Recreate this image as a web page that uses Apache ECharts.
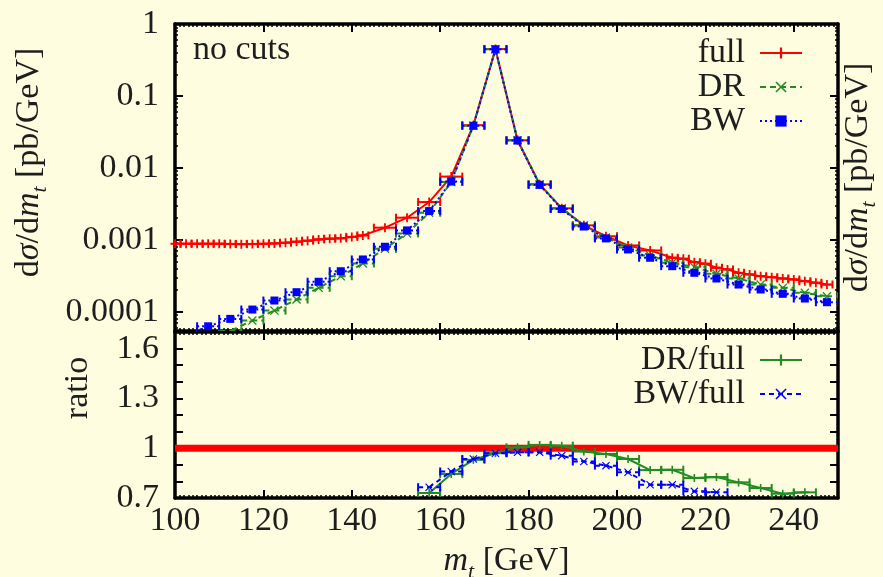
<!DOCTYPE html>
<html>
<head>
<meta charset="utf-8">
<script src="https://cdn.jsdelivr.net/npm/echarts@6/dist/echarts.min.js"></script>
<style>
html, body { margin: 0; padding: 0; background: #fefddf; }
#chart { width: 883px; height: 577px; }
</style>
</head>
<body>
<div id="chart"></div>
<script>
var F = 'Liberation Serif';
var FS = 34;
var RED = '#ff0000', GREEN = '#228b22', BLUE = '#0000ff', INK = '#1e1e1e';

// top panel: d sigma / d m_t  [pb/GeV]
var fullX = [100, 102.5, 105, 107.5, 110, 112.5, 115, 117.5, 120, 122.5, 125, 127.5, 130, 132.5, 135, 137.5, 140, 142.5,
    147.5, 152.5, 157.5, 162.5, 167.5, 172.5, 177.5, 182.5, 187.5, 192.5, 197.5, 202.5, 207.5,
    212.5, 215, 217.5, 220, 222.5, 225, 227.5, 230, 232.5, 235, 237.5, 240, 242.5, 245, 247.5];
var fullY = [8.82e-4, 8.82e-4, 8.82e-4, 8.82e-4, 8.82e-4, 8.77e-4, 8.71e-4, 8.77e-4, 8.82e-4, 8.91e-4, 9.11e-4, 9.41e-4, 9.72e-4, 1.013e-3, 1.036e-3, 1.05e-3, 1.098e-3, 1.151e-3,
    1.474e-3, 2.03e-3, 3.35e-3, 7.56e-3, 0.0392, 0.4486, 0.0242, 5.91e-3, 2.74e-3, 1.588e-3, 1.12e-3, 8.36e-4, 7.12e-4,
    5.63e-4, 5.45e-4, 4.89e-4, 4.65e-4, 4.09e-4, 3.87e-4, 3.48e-4, 3.30e-4, 3.12e-4, 3.02e-4, 2.90e-4, 2.81e-4, 2.66e-4, 2.53e-4, 2.39e-4];
var fullHalfBin = [1.25, 1.25, 1.25, 1.25, 1.25, 1.25, 1.25, 1.25, 1.25, 1.25, 1.25, 1.25, 1.25, 1.25, 1.25, 1.25, 1.25, 1.25,
    2.5, 2.5, 2.5, 2.5, 2.5, 2.5, 2.5, 2.5, 2.5, 2.5, 2.5, 2.5, 2.5,
    1.25, 1.25, 1.25, 1.25, 1.25, 1.25, 1.25, 1.25, 1.25, 1.25, 1.25, 1.25, 1.25, 1.25, 1.25];

var binX = [102.5, 107.5, 112.5, 117.5, 122.5, 127.5, 132.5, 137.5, 142.5, 147.5, 152.5, 157.5, 162.5, 167.5, 172.5,
    177.5, 182.5, 187.5, 192.5, 197.5, 202.5, 207.5, 212.5, 217.5, 222.5, 227.5, 232.5, 237.5, 242.5, 247.5];
var drY = [2.79e-5, 3.85e-5, 5.38e-5, 7.54e-5, 1.039e-4, 1.479e-4, 2.15e-4, 3.12e-4, 4.69e-4, 7.52e-4, 1.228e-3, 2.38e-3, 6.35e-3, 0.0386, 0.444,
    0.0242, 5.91e-3, 2.74e-3, 1.59e-3, 1.08e-3, 7.83e-4, 6.06e-4, 4.80e-4, 4.17e-4, 3.37e-4, 2.90e-4, 2.39e-4, 2.15e-4, 1.83e-4, 1.64e-4];
var bwY = [4.66e-5, 6.28e-5, 7.96e-5, 1.073e-4, 1.432e-4, 1.87e-4, 2.61e-4, 3.66e-4, 5.33e-4, 8.01e-4, 1.351e-3, 2.51e-3, 6.45e-3, 0.0385, 0.446,
    0.0240, 5.8e-3, 2.68e-3, 1.53e-3, 1.046e-3, 7.35e-4, 5.63e-4, 4.30e-4, 3.48e-4, 2.90e-4, 2.39e-4, 2.04e-4, 1.776e-4, 1.527e-4, 1.356e-4];

// bottom panel: ratios
var drRatioX = [157.5, 162.5, 167.5, 172.5, 177.5, 182.5, 187.5, 192.5, 197.5, 202.5, 207.5, 212.5, 217.5, 222.5, 227.5, 232.5, 237.5, 242.5];
var drRatio = [0.73, 0.845, 0.93, 0.97, 1.005, 1.02, 1.015, 0.98, 0.965, 0.935, 0.868, 0.87, 0.82, 0.826, 0.794, 0.76, 0.726, 0.734];
var bwRatioX = [157.5, 162.5, 167.5, 172.5, 177.5, 182.5, 187.5, 192.5, 197.5, 202.5, 207.5, 212.5, 217.5, 222.5];
var bwRatio = [0.765, 0.86, 0.935, 0.97, 0.975, 0.975, 0.955, 0.92, 0.895, 0.855, 0.78, 0.78, 0.74, 0.735];
var unityX = [100, 250];
var unityY = [1, 1];

var logTicks = ['1', '0.1', '0.01', '0.001', '0.0001'];
var ratioTicks = ['0.7', '1', '1.3', '1.6'];

function pts(xs, ys) {
    return xs.map(function(x, i) { return [x, ys[i]]; });
}
function bars(xs, ys, ws) {
    return xs.map(function(x, i) { return [x, ys[i], typeof ws === 'number' ? ws : ws[i]]; });
}

// horizontal bin bars with end caps
function errBars(color, dash) {
    return function(params, api) {
        var x = api.value(0), y = api.value(1), w = api.value(2);
        var a = api.coord([x - w, y]), b = api.coord([x + w, y]);
        var cap = 4;
        return {
            type: 'group',
            children: [
                {type: 'line', shape: {x1: a[0], y1: a[1], x2: b[0], y2: b[1]}, style: {stroke: color, lineWidth: 2, lineDash: dash}},
                {type: 'line', shape: {x1: a[0], y1: a[1] - cap, x2: a[0], y2: a[1] + cap}, style: {stroke: color, lineWidth: 2}},
                {type: 'line', shape: {x1: b[0], y1: b[1] - cap, x2: b[0], y2: b[1] + cap}, style: {stroke: color, lineWidth: 2}}
            ]
        };
    };
}

function decadeLabel(v) {
    var l = Math.log(v) / Math.LN10;
    var e = Math.round(l);
    if (Math.abs(l - e) > 1e-6) return '';
    return logTicks[-e] || '';
}
function ratioLabel(v) {
    var s = String(Math.round(v * 10) / 10);
    return ratioTicks.indexOf(s) >= 0 ? s : '';
}

var plusSym = 'path://M4,0H6V4H10V6H6V10H4V6H0V4H4Z';
var crossSym = 'path://M1,0L5,4L9,0L10,1L6,5L10,9L9,10L5,6L1,10L0,9L4,5L0,1Z';

var rich = {
    r: {fontFamily: F, fontSize: FS, color: INK, lineHeight: 38},
    i: {fontFamily: F, fontSize: FS, color: INK, fontStyle: 'italic', lineHeight: 38},
    s: {fontFamily: F, fontSize: 22, color: INK, fontStyle: 'italic', lineHeight: 26, padding: [22, 0, 0, 0]}
};
var yName = '{r|d}{i|σ}{r|/d}{i|m}{s|t}{r| [pb/GeV]}';

var frame = {lineStyle: {color: '#000', width: 3.5}};
var tick = {inside: true, length: 8, lineStyle: {color: '#000', width: 2}};
var minor = {show: true, length: 3, splitNumber: 20, lineStyle: {color: '#000', width: 1.5}};
var logMinor = {show: true, length: 3, splitNumber: 9, lineStyle: {color: '#000', width: 1.5}};

function xAxis(grid, pos, labels, extra) {
    var o = {
        type: 'value', gridIndex: grid, position: pos, min: 100, max: 250, interval: 20,
        axisLine: frame, axisTick: tick, minorTick: minor, splitLine: {show: false},
        axisLabel: {show: labels, fontFamily: F, fontSize: FS, color: INK, margin: 6}
    };
    for (var k in extra) o[k] = extra[k];
    return o;
}

var chart = echarts.init(document.getElementById('chart'));
chart.setOption({
    animation: false,
    backgroundColor: '#fefddf',
    grid: [
        {left: 175, right: 45, top: 24, height: 307, outerBoundsMode: 'none', containLabel: false},
        {left: 175, right: 45, top: 332, height: 166, outerBoundsMode: 'none', containLabel: false}
    ],
    legend: [{
        data: ['full', 'DR', 'BW'], orient: 'vertical', align: 'right', right: 75, top: 31,
        itemWidth: 42, itemHeight: 14, itemGap: 0,
        textStyle: {fontFamily: F, fontSize: FS, color: INK, lineHeight: 26, padding: [0, 10, 0, 0]}
    }, {
        data: ['DR/full', 'BW/full'], orient: 'vertical', align: 'right', right: 75, top: 338,
        itemWidth: 42, itemHeight: 14, itemGap: 0,
        textStyle: {fontFamily: F, fontSize: FS, color: INK, lineHeight: 27, padding: [0, 10, 0, 0]}
    }],
    graphic: [{
        type: 'text', left: 193, top: 33,
        style: {text: 'no cuts', font: FS + 'px "Liberation Serif"', fill: INK}
    }],
    xAxis: [
        xAxis(0, 'bottom', false),
        xAxis(0, 'top', false),
        xAxis(1, 'bottom', true, {
            name: '{i|m}{s|t}{r| [GeV]}', nameLocation: 'middle', nameGap: 27,
            nameTextStyle: {rich: rich}
        }),
        xAxis(1, 'top', false)
    ],
    yAxis: [{
        type: 'log', gridIndex: 0, position: 'left', min: 5.4e-5, max: 1,
        axisLine: frame, axisTick: tick, minorTick: logMinor, splitLine: {show: false},
        axisLabel: {fontFamily: F, fontSize: FS, color: INK, margin: 16, formatter: decadeLabel},
        name: yName, nameLocation: 'middle', nameRotate: 90, nameGap: 127,
        nameTextStyle: {rich: rich, padding: [0, 0, 0, 30]}
    }, {
        type: 'log', gridIndex: 0, position: 'right', min: 5.4e-5, max: 1,
        axisLine: frame, axisTick: tick, minorTick: logMinor, splitLine: {show: false},
        axisLabel: {show: false},
        name: yName, nameLocation: 'middle', nameRotate: 90, nameGap: 1,
        nameTextStyle: {rich: rich}
    }, {
        type: 'value', gridIndex: 1, position: 'left', min: 0.7, max: 1.7, interval: 0.1,
        axisLine: frame, axisTick: tick, splitLine: {show: false},
        axisLabel: {fontFamily: F, fontSize: FS, color: INK, margin: 16, formatter: ratioLabel},
        name: 'ratio', nameLocation: 'middle', nameRotate: 90, nameGap: 80,
        nameTextStyle: {fontFamily: F, fontSize: FS, color: INK, padding: [0, 0, 0, 54]}
    }, {
        type: 'value', gridIndex: 1, position: 'right', min: 0.7, max: 1.7, interval: 0.1,
        axisLine: frame, axisTick: tick, splitLine: {show: false},
        axisLabel: {show: false}
    }],
    series: [
        {
            name: 'full', type: 'line', xAxisIndex: 0, yAxisIndex: 0, z: 3,
            data: pts(fullX, fullY), symbol: plusSym, symbolSize: 9,
            lineStyle: {color: RED, width: 2}, itemStyle: {color: RED}
        },
        {
            name: 'full bins', type: 'custom', xAxisIndex: 0, yAxisIndex: 0, z: 3, clip: true,
            data: bars(fullX, fullY, fullHalfBin), renderItem: errBars(RED, null)
        },
        {
            name: 'DR', type: 'line', xAxisIndex: 0, yAxisIndex: 0, z: 4,
            data: pts(binX, drY), symbol: crossSym, symbolSize: 9,
            lineStyle: {color: GREEN, width: 2, type: [6, 4]}, itemStyle: {color: GREEN}
        },
        {
            name: 'DR bins', type: 'custom', xAxisIndex: 0, yAxisIndex: 0, z: 4, clip: true,
            data: bars(binX, drY, 2.5), renderItem: errBars(GREEN, [6, 4])
        },
        {
            name: 'BW', type: 'line', xAxisIndex: 0, yAxisIndex: 0, z: 5,
            data: pts(binX, bwY), symbol: 'rect', symbolSize: 8,
            lineStyle: {color: BLUE, width: 2, type: [2, 3]}, itemStyle: {color: BLUE}
        },
        {
            name: 'BW bins', type: 'custom', xAxisIndex: 0, yAxisIndex: 0, z: 5, clip: true,
            data: bars(binX, bwY, 2.5), renderItem: errBars(BLUE, [2, 3])
        },
        {
            name: 'unity', type: 'line', xAxisIndex: 2, yAxisIndex: 2, z: 2,
            data: pts(unityX, unityY), symbol: 'none',
            lineStyle: {color: RED, width: 7}
        },
        {
            name: 'DR/full', type: 'line', xAxisIndex: 2, yAxisIndex: 2, z: 4,
            data: pts(drRatioX, drRatio), symbol: plusSym, symbolSize: 8,
            lineStyle: {color: GREEN, width: 2}, itemStyle: {color: GREEN}
        },
        {
            name: 'DR/full bins', type: 'custom', xAxisIndex: 2, yAxisIndex: 2, z: 4, clip: true,
            data: bars(drRatioX, drRatio, 2.5), renderItem: errBars(GREEN, null)
        },
        {
            name: 'BW/full', type: 'line', xAxisIndex: 2, yAxisIndex: 2, z: 5,
            data: pts(bwRatioX, bwRatio), symbol: crossSym, symbolSize: 8,
            lineStyle: {color: BLUE, width: 2, type: [5, 4]}, itemStyle: {color: BLUE}
        },
        {
            name: 'BW/full bins', type: 'custom', xAxisIndex: 2, yAxisIndex: 2, z: 5, clip: true,
            data: bars(bwRatioX, bwRatio, 2.5), renderItem: errBars(BLUE, [5, 4])
        }
    ]
});
</script>
</body>
</html>
